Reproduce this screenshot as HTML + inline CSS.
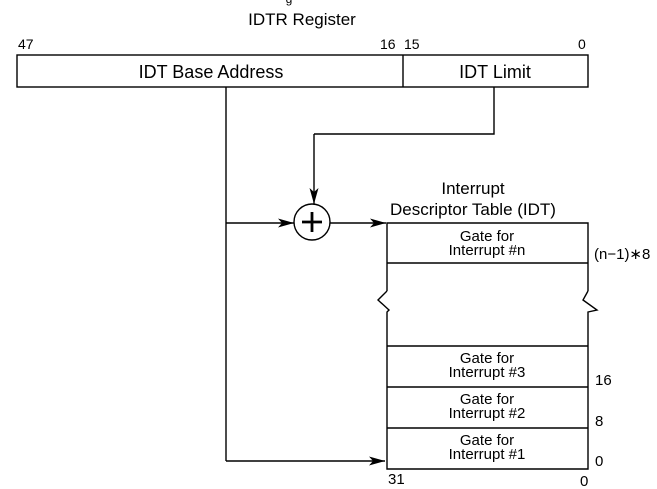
<!DOCTYPE html>
<html><head><style>
html,body{margin:0;padding:0;background:#fff;}
svg{display:block;font-family:"Liberation Sans",Arial,sans-serif;}
</style></head><body>
<svg width="657" height="489" viewBox="0 0 657 489" xmlns="http://www.w3.org/2000/svg">
<defs><marker id="a" markerWidth="16" markerHeight="9" refX="16" refY="4.5" orient="auto" markerUnits="userSpaceOnUse"><path d="M0,0 L16,4.5 L0,9 L4,4.5 z" fill="#000"/></marker></defs>
<g fill="#000" text-anchor="middle">
<text x="302" y="25" font-size="17">IDTR Register</text>
<text x="289" y="3" font-size="12">g</text>
<text x="473" y="194" font-size="17">Interrupt</text>
<text x="473" y="215" font-size="17">Descriptor Table (IDT)</text>
<text x="211" y="78" font-size="18">IDT Base Address</text>
<text x="495" y="78" font-size="18">IDT Limit</text>
</g>
<g fill="#000" font-size="14">
<text x="18" y="49">47</text>
<text x="380" y="49">16</text>
<text x="404" y="49">15</text>
<text x="578" y="49">0</text>
</g>
<g fill="none" stroke="#000" stroke-width="1.4">
<rect x="17" y="55" width="571" height="32"/>
<line x1="403" y1="55" x2="403" y2="87"/>
<line x1="226" y1="87" x2="226" y2="461"/>
<polyline points="494,87 494,134 314,134" />
<line x1="314" y1="134" x2="314" y2="204" marker-end="url(#a)"/>
<line x1="226" y1="223" x2="294" y2="223" marker-end="url(#a)"/>
<circle cx="312" cy="222" r="18"/>
<line x1="330" y1="223" x2="386" y2="223" marker-end="url(#a)"/>
<line x1="226" y1="461" x2="385" y2="461" marker-end="url(#a)"/>
<polyline points="387,291 387,223 588,223 588,291"/>
<polyline points="387,291 378,300 389,310 387,312 387,469 588,469 588,312 597,310 583,300 588,291"/>
<line x1="387" y1="263" x2="588" y2="263"/>
<line x1="387" y1="346" x2="588" y2="346"/>
<line x1="387" y1="387" x2="588" y2="387"/>
<line x1="387" y1="428" x2="588" y2="428"/>
</g>
<g stroke="#000" stroke-width="2.8"><line x1="312" y1="212" x2="312" y2="232"/><line x1="302" y1="222" x2="322" y2="222"/></g>
<g fill="#000" font-size="15" text-anchor="middle">
<text x="487" y="241">Gate for</text><text x="487" y="255">Interrupt #n</text>
<text x="487" y="363">Gate for</text><text x="487" y="377">Interrupt #3</text>
<text x="487" y="404">Gate for</text><text x="487" y="418">Interrupt #2</text>
<text x="487" y="445">Gate for</text><text x="487" y="459">Interrupt #1</text>
</g>
<g fill="#000" font-size="15">
<text x="594" y="259">(n−1)∗8</text>
<text x="595" y="385">16</text>
<text x="595" y="426">8</text>
<text x="595" y="466">0</text>
<text x="388" y="484">31</text>
<text x="580" y="486">0</text>
</g>
</svg>
</body></html>
